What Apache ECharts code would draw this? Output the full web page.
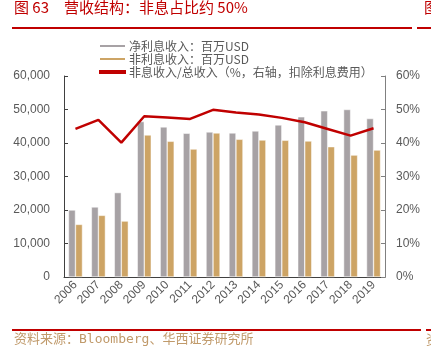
<!DOCTYPE html>
<html>
<head>
<meta charset="utf-8">
<script src="https://cdn.jsdelivr.net/npm/echarts@6/dist/echarts.min.js"></script>
<style>
  html, body { margin: 0; padding: 0; background: #fff; }
  #chart { width: 431px; height: 352px; }
</style>
</head>
<body>
<div id="chart"></div>
<script>
// 年份
var years = ['2006', '2007', '2008', '2009', '2010', '2011', '2012', '2013', '2014', '2015', '2016', '2017', '2018', '2019'];
// 净利息收入：百万USD
var netInterest = [20000, 20900, 25200, 46400, 44800, 42900, 43300, 43000, 43600, 45400, 47800, 49600, 50000, 47300];
// 非利息收入：百万USD
var nonInterest = [15700, 18400, 16700, 42400, 40500, 38200, 43000, 41100, 40900, 40800, 40600, 38900, 36400, 37900];
// 非息收入/总收入（%）
var nonInterestRatio = [44.2, 46.9, 40.1, 48.0, 47.6, 47.2, 49.9, 49.1, 48.5, 47.5, 46.2, 44.2, 42.2, 44.4];

var names = ['净利息收入：百万USD', '非利息收入：百万USD', '非息收入/总收入（%，右轴，扣除利息费用）'];
var cjk = '"Noto Sans CJK SC", sans-serif';
var axisFont = 'Liberation Sans, Arial, sans-serif';

var chart = echarts.init(document.getElementById('chart'));
chart.setOption({
    animation: false,
    color: ['#a7a2a5', '#cda465', '#c00000'],
    grid: { left: 64, right: 46, top: 76, bottom: 75 },
    legend: {
        orient: 'vertical',
        left: 93,
        top: 35,
        itemWidth: 27,
        itemHeight: 4,
        itemGap: 1,
        textStyle: { fontFamily: cjk, fontSize: 12, color: '#595959', padding: [0, 0, 0, -2] },
        data: [
            { name: names[0], icon: 'rect' },
            { name: names[1], icon: 'rect' },
            { name: names[2], icon: 'rect', itemStyle: { color: '#c00000' } }
        ]
    },
    xAxis: {
        type: 'category',
        data: years,
        axisLine: { lineStyle: { color: '#404040', width: 1 } },
        axisTick: { inside: true, length: 4, lineStyle: { color: '#404040' } },
        axisLabel: { rotate: 45, interval: 0, color: '#595959', fontSize: 12, fontFamily: axisFont, margin: 6 }
    },
    yAxis: [
        {
            type: 'value', min: 0, max: 60000, interval: 10000,
            axisLine: { show: true, lineStyle: { color: '#404040' } },
            axisTick: { show: true, inside: true, length: 4, lineStyle: { color: '#404040' } },
            splitLine: { show: false },
            axisLabel: {
                color: '#595959', fontSize: 12, fontFamily: axisFont, margin: 14,
                formatter: function (v) { return v.toLocaleString('en-US'); }
            }
        },
        {
            type: 'value', min: 0, max: 60, interval: 10,
            axisLine: { show: true, lineStyle: { color: '#808080' } },
            axisTick: { show: true, inside: true, length: 4, lineStyle: { color: '#808080' } },
            splitLine: { show: false },
            axisLabel: { color: '#595959', fontSize: 12, fontFamily: axisFont, margin: 11, formatter: '{value}%' }
        }
    ],
    series: [
        {
            name: names[0], type: 'bar', data: netInterest,
            barWidth: 7, barGap: '0%',
            itemStyle: { borderColor: '#ffffff', borderWidth: 0.5 }
        },
        {
            name: names[1], type: 'bar', data: nonInterest,
            barWidth: 7,
            itemStyle: { borderColor: '#ffffff', borderWidth: 0.5 }
        },
        {
            name: names[2], type: 'line', yAxisIndex: 1, data: nonInterestRatio,
            symbol: 'none', lineStyle: { width: 2.5, color: '#c00000' }, z: 5
        }
    ],
    graphic: [
        { type: 'text', left: 14, top: 0, style: { text: '图 63　营收结构：非息占比约 50%', fill: '#c00000', font: '15px ' + cjk } },
        { type: 'text', left: 424, top: 0, style: { text: '图', fill: '#c00000', font: '15px ' + cjk } },
        { type: 'rect', shape: { x: 12, y: 27, width: 400, height: 2 }, style: { fill: '#c00000' } },
        { type: 'rect', shape: { x: 417, y: 27, width: 14, height: 2 }, style: { fill: '#c00000' } },
        { type: 'rect', shape: { x: 12, y: 329, width: 409, height: 2 }, style: { fill: '#c00000' } },
        { type: 'rect', shape: { x: 426, y: 329, width: 5, height: 2 }, style: { fill: '#c00000' } },
        { type: 'text', left: 14, top: 333, style: { text: '资料来源：Bloomberg、华西证券研究所', fill: '#c09a6b', font: '13px "DejaVu Sans Mono", ' + cjk } },
        { type: 'text', left: 426, top: 333, style: { text: '资', fill: '#c09a6b', font: '13px ' + cjk } }
    ]
});
</script>
</body>
</html>
